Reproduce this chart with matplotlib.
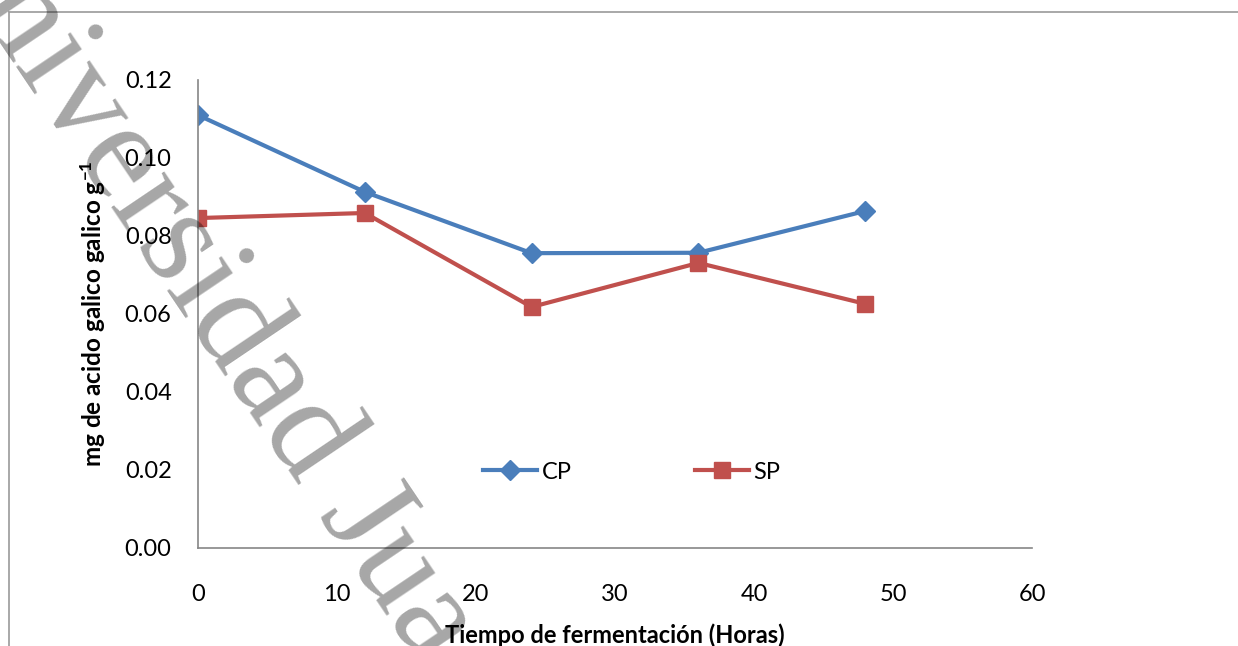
import matplotlib.pyplot as plt
from matplotlib.patches import Rectangle

# data
horas = [0, 12, 24, 36, 48]
cp = [0.111, 0.0913, 0.0756, 0.0757, 0.0864]
sp = [0.0846, 0.0859, 0.0618, 0.0731, 0.0626]
x_ticks = [0, 10, 20, 30, 40, 50, 60]
y_ticks = [0.00, 0.02, 0.04, 0.06, 0.08, 0.10, 0.12]

azul = '#4a7ebb'
rojo = '#c0504d'
fuente = 'Lato'

plt.rcParams['mathtext.fontset'] = 'custom'
plt.rcParams['mathtext.rm'] = 'Lato'
plt.rcParams['mathtext.bf'] = 'Lato:bold'

fig = plt.figure(figsize=(12.38, 6.46), dpi=100)
ax = fig.add_axes([198 / 1238, 1 - 548 / 646, 834 / 1238, 468 / 646])

ax.plot(horas, cp, color=azul, lw=3, marker='D', markersize=10, label='CP')
ax.plot(horas, sp, color=rojo, lw=3, marker='s', markersize=11, label='SP')

ax.set_xlim(0, 60)
ax.set_ylim(0, 0.12)
ax.set_xticks(x_ticks)
ax.set_yticks(y_ticks)
ax.set_yticklabels(['%.2f' % v for v in y_ticks])
ax.tick_params(length=0, labelsize=17)
ax.tick_params(axis='y', pad=19)
ax.tick_params(axis='x', pad=26)
for lab in ax.get_xticklabels() + ax.get_yticklabels():
    lab.set_fontfamily(fuente)

for s in ['top', 'right']:
    ax.spines[s].set_visible(False)
for s in ['left', 'bottom']:
    ax.spines[s].set_color('#868686')
    ax.spines[s].set_linewidth(1.2)

ax.set_xlabel('Tiempo de fermentación (Horas)', fontsize=17, fontweight='bold',
              family=fuente, labelpad=13)
ax.set_ylabel('mg de acido galico galico g$\\mathbf{^{-1}}$', fontsize=17.5,
              fontweight='bold', family=fuente, labelpad=12)

ax.legend(loc='center', bbox_to_anchor=(0.52, 0.162), ncol=2, frameon=False,
          prop={'family': fuente, 'size': 17}, handlelength=2.3,
          columnspacing=5.2, handletextpad=0.2)

# chart area border
fig.patches.append(Rectangle((9 / 1238, -0.1), 1.2, 1 - 12 / 646 + 0.1,
                             transform=fig.transFigure, fill=False,
                             edgecolor='#9a9a9a', lw=1.2))

# watermark
fig.text(-0.0658, 1.118, 'Universidad Jua', fontsize=100, family='Liberation Serif',
         color='black', alpha=0.35, rotation=-56, rotation_mode='anchor',
         ha='left', va='baseline', zorder=10)

fig.savefig('out.png', dpi=100)
